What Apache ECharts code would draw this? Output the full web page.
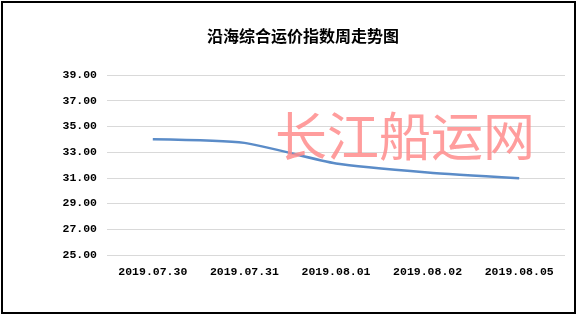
<!DOCTYPE html>
<html>
<head>
<meta charset="utf-8">
<script src="https://cdn.jsdelivr.net/npm/echarts@6/dist/echarts.min.js"></script>
<style>
html,body{margin:0;padding:0;background:#fff;}
#c{width:578px;height:318px;}
</style>
</head>
<body>
<div id="c"></div>
<script>
const categories = ['2019.07.30', '2019.07.31', '2019.08.01', '2019.08.02', '2019.08.05'];
const indexValues = [34.00, 33.72, 32.12, 31.42, 30.97];
const titleText = '沿海综合运价指数周走势图';
const watermarkText = '长江船运网';

const chart = echarts.init(document.getElementById('c'), null, {renderer: 'canvas'});
const fontFam = '"Noto Sans CJK SC", "DejaVu Sans", sans-serif';
const numFam = '"Liberation Mono", "DejaVu Sans Mono", monospace';
chart.setOption({
  animation: false,
  backgroundColor: '#fff',
  title: {
    text: titleText,
    left: 298, top: 23, textAlign: 'center',
    textStyle: {fontFamily: fontFam, fontSize: 16, fontWeight: 'bold', color: '#000'}
  },
  grid: {left: 107, right: 13, top: 75, bottom: 63, containLabel: false},
  xAxis: {
    type: 'category',
    data: categories,
    boundaryGap: true,
    axisLine: {show: false},
    axisTick: {show: false},
    axisLabel: {margin: 11, fontFamily: numFam, fontSize: 11.5, fontWeight: 'bold', color: '#000'}
  },
  yAxis: {
    type: 'value',
    min: 25, max: 39, interval: 2,
    axisLine: {show: false},
    axisTick: {show: false},
    splitLine: {lineStyle: {color: '#d9d9d9', width: 1}},
    axisLabel: {margin: 10, fontFamily: numFam, fontSize: 11.5, fontWeight: 'bold', color: '#000',
      formatter: v => v.toFixed(2)}
  },
  series: [{
    type: 'line',
    data: indexValues,
    smooth: 0.2,
    symbol: 'none',
    lineStyle: {color: '#5b8cc8', width: 2.5}
  }],
  graphic: [
    {
      type: 'text', left: 275, top: 110, z: 100,
      style: {
        text: watermarkText,
        font: 'normal 52px "Noto Sans CJK SC", sans-serif',
        fill: 'rgba(255,140,140,0.85)',
        shadowColor: 'rgba(120,120,120,0.5)', shadowBlur: 4, shadowOffsetX: 1, shadowOffsetY: 1
      }
    },
    {
      type: 'rect', z: 101,
      shape: {x: 2, y: 2, width: 573, height: 311},
      style: {fill: 'none', stroke: '#000', lineWidth: 2}
    }
  ]
});
</script>
</body>
</html>
